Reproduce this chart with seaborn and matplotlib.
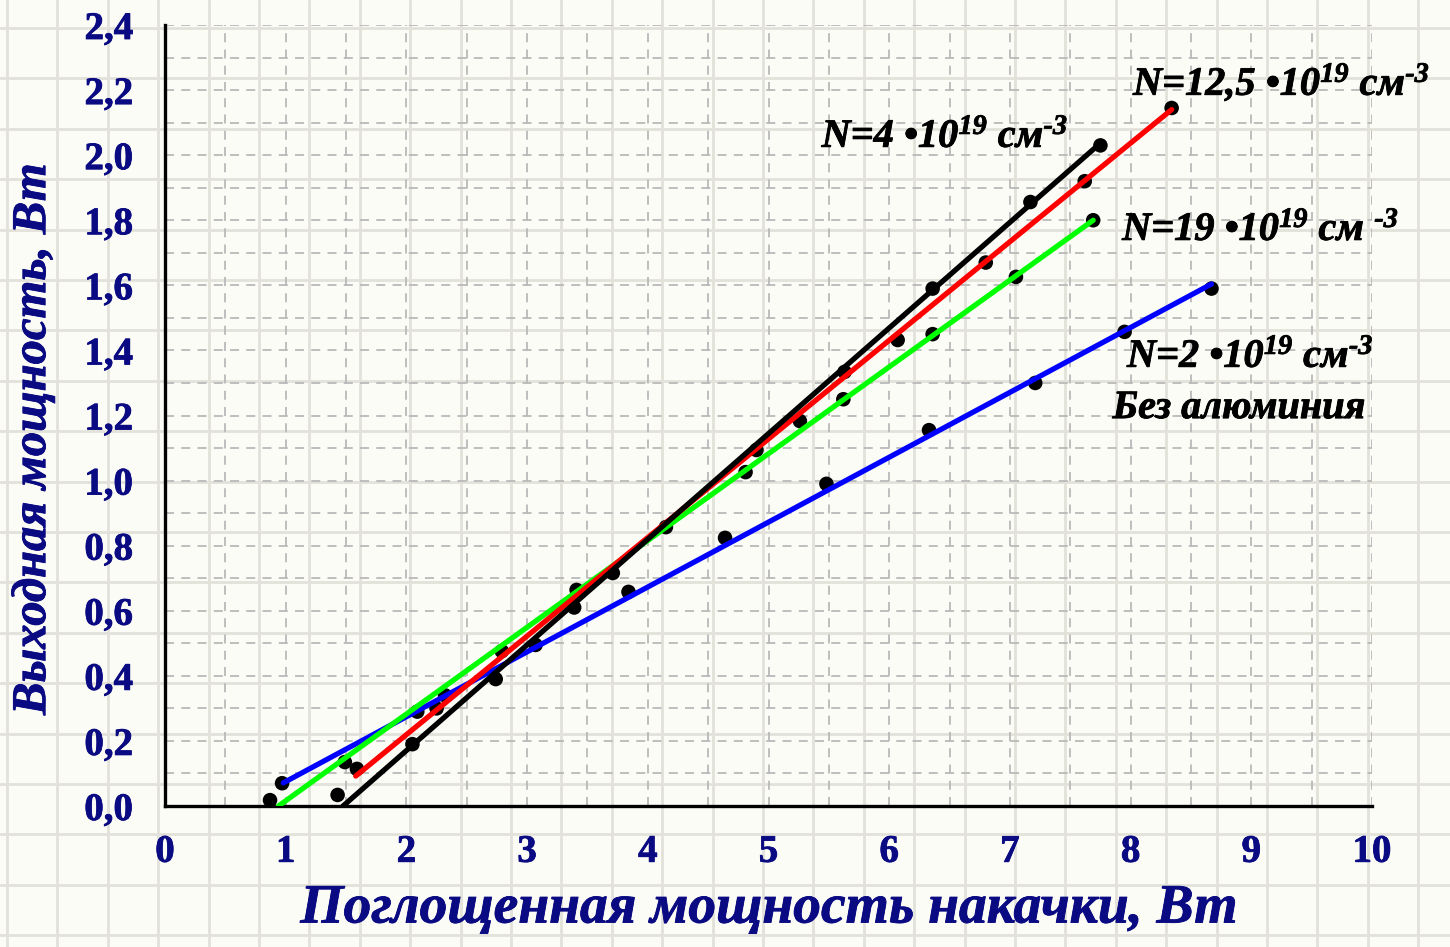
import numpy as np
import pandas as pd
import matplotlib
matplotlib.use("Agg")
import matplotlib.pyplot as plt
import matplotlib.patheffects as pe
import seaborn as sns

# ---------------- data ----------------
series_names = ["N2", "N19", "N12.5", "N4"]
series_colors = ["#0000ff", "#00ff00", "#ff0000", "#000000"]

# measured points (all drawn as black dots)
n2_x = [0.97, 2.09, 3.07, 3.84, 4.64, 5.48, 6.33, 7.21, 7.95, 8.67]
n2_y = [0.070, 0.290, 0.495, 0.658, 0.824, 0.990, 1.155, 1.300, 1.457, 1.590]
n19_x = [0.87, 1.49, 2.32, 2.79, 3.41, 4.81, 5.62, 6.36, 7.05, 7.69]
n19_y = [0.018, 0.135, 0.340, 0.476, 0.664, 1.026, 1.250, 1.450, 1.626, 1.800]
n125_x = [1.59, 2.25, 3.39, 4.15, 5.26, 6.07, 6.80, 7.62, 8.34]
n125_y = [0.114, 0.300, 0.610, 0.857, 1.183, 1.432, 1.670, 1.920, 2.145]
n4_x = [1.43, 2.05, 2.74, 3.71, 4.90, 5.63, 6.36, 7.17, 7.75]
n4_y = [0.034, 0.190, 0.390, 0.716, 1.094, 1.334, 1.590, 1.856, 2.030]

# fitted straight lines (start / end)
fit_n2_x = [0.98, 8.67]
fit_n2_y = [0.071, 1.604]
fit_n19_x = [0.94, 7.69]
fit_n19_y = [0.000, 1.800]
fit_n125_x = [1.58, 8.34]
fit_n125_y = [0.092, 2.140]
fit_n4_x = [1.475, 7.75]
fit_n4_y = [0.000, 2.037]

x_ticks = [0, 1, 2, 3, 4, 5, 6, 7, 8, 9, 10]
y_ticks = [0.0, 0.2, 0.4, 0.6, 0.8, 1.0, 1.2, 1.4, 1.6, 1.8, 2.0, 2.2, 2.4]
y_tick_labels = ["0,0", "0,2", "0,4", "0,6", "0,8", "1,0", "1,2", "1,4",
                 "1,6", "1,8", "2,0", "2,2", "2,4"]

x_label = "Поглощенная мощность накачки, Вт"
y_label = "Выходная мощность, Вт"

annotations = [
    ("N=12,5 •10$^{19}$ см$^{\u20103}$", 8.02, 2.185),
    ("N=4 •10$^{19}$ см$^{\u20103}$", 5.44, 2.025),
    ("N=19 •10$^{19}$ см $^{\u20103}$", 7.93, 1.739),
    ("N=2 •10$^{19}$ см$^{\u20103}$", 7.97, 1.349),
    ("Без алюминия", 7.85, 1.192),
]

# ---------------- frames ----------------
pts = pd.concat([
    pd.DataFrame({"x": n2_x, "y": n2_y, "s": "N2"}),
    pd.DataFrame({"x": n19_x, "y": n19_y, "s": "N19"}),
    pd.DataFrame({"x": n125_x, "y": n125_y, "s": "N12.5"}),
    pd.DataFrame({"x": n4_x, "y": n4_y, "s": "N4"}),
], ignore_index=True)

fits = pd.concat([
    pd.DataFrame({"x": fit_n2_x, "y": fit_n2_y, "s": "N2"}),
    pd.DataFrame({"x": fit_n19_x, "y": fit_n19_y, "s": "N19"}),
    pd.DataFrame({"x": fit_n125_x, "y": fit_n125_y, "s": "N12.5"}),
    pd.DataFrame({"x": fit_n4_x, "y": fit_n4_y, "s": "N4"}),
], ignore_index=True)

# ---------------- style ----------------
sns.set_style("white")
plt.rcParams["font.family"] = ["Liberation Serif", "DejaVu Serif"]
plt.rcParams["mathtext.fontset"] = "custom"
plt.rcParams["mathtext.rm"] = "Liberation Serif:bold:italic"
plt.rcParams["mathtext.it"] = "Liberation Serif:bold:italic"
plt.rcParams["mathtext.bf"] = "Liberation Serif:bold:italic"

W, H = 1450, 947
fig = plt.figure(figsize=(W / 100, H / 100), dpi=100)
fig.patch.set_facecolor("#fcfcf7")

# graph-paper background
bg = fig.add_axes([0, 0, 1, 1], zorder=-5)
bg.set_xlim(0, W)
bg.set_ylim(H, 0)
bg.set_xticks(np.arange(7, W, 50.4))
bg.set_yticks(np.arange(28, H, 50.4))
bg.grid(True, color="#e2e2da", lw=2.0)
bg.tick_params(length=0, labelbottom=False, labelleft=False)
for sp in bg.spines.values():
    sp.set_visible(False)
bg.set_facecolor("#fcfcf7")

ax = fig.add_axes([165 / W, 1 - 806 / H, (1372 - 165) / W, (806 - 25) / H])
ax.set_facecolor("none")

sns.scatterplot(data=pts, x="x", y="y", color="black", s=110, edgecolor="none",
                ax=ax, zorder=2, legend=False)
sns.lineplot(data=fits, x="x", y="y", hue="s", hue_order=series_names,
             palette=dict(zip(series_names, series_colors)), sort=False,
             estimator=None, lw=3.8, ax=ax, zorder=3, legend=False)

ax.set_xlim(0, 10)
ax.set_ylim(0, 2.4)
ax.set_xticks(x_ticks)
ax.set_xticks(np.arange(0.5, 10, 1.0), minor=True)
ax.set_yticks(y_ticks)
ax.set_yticklabels(y_tick_labels)
ax.set_yticks(np.arange(0.1, 2.4, 0.2), minor=True)

navy = "#0a0a82"
ax.tick_params(axis="both", which="major", direction="out", length=13, width=2.2,
               color="black", labelsize=28, labelcolor=navy)
ax.tick_params(axis="both", which="minor", direction="out", length=6.5, width=2.2,
               color="black")
ax.tick_params(axis="x", which="major", pad=7)
ax.tick_params(axis="y", which="major", pad=10)
thick_navy = [pe.withStroke(linewidth=0.6, foreground=navy)]
for lab in ax.get_xticklabels() + ax.get_yticklabels():
    lab.set_fontweight("bold")
    lab.set_path_effects(thick_navy)

ax.grid(True, which="both", color="#b9b9b9", lw=1.3, ls=(0, (5, 4)))
ax.set_axisbelow(True)

for side in ["top", "right"]:
    ax.spines[side].set_visible(False)
for side in ["left", "bottom"]:
    ax.spines[side].set_linewidth(2.4)
    ax.spines[side].set_color("black")

ax.set_xlabel(x_label, fontsize=40, fontweight="bold", fontstyle="italic", color=navy,
              path_effects=thick_navy)
ax.set_ylabel(y_label, fontsize=35, fontweight="bold", fontstyle="italic", color=navy,
              path_effects=thick_navy)
ax.xaxis.set_label_coords(0.5, -0.098)
ax.yaxis.set_label_coords(-0.091, 0.47)

thick_black = [pe.withStroke(linewidth=0.6, foreground="black")]
for txt, tx, ty in annotations:
    ax.text(tx, ty, txt, fontsize=29, fontweight="bold", fontstyle="italic",
            color="black", ha="left", va="baseline", clip_on=False, zorder=5,
            path_effects=thick_black)

fig.savefig("out.png", dpi=100, facecolor=fig.get_facecolor())
